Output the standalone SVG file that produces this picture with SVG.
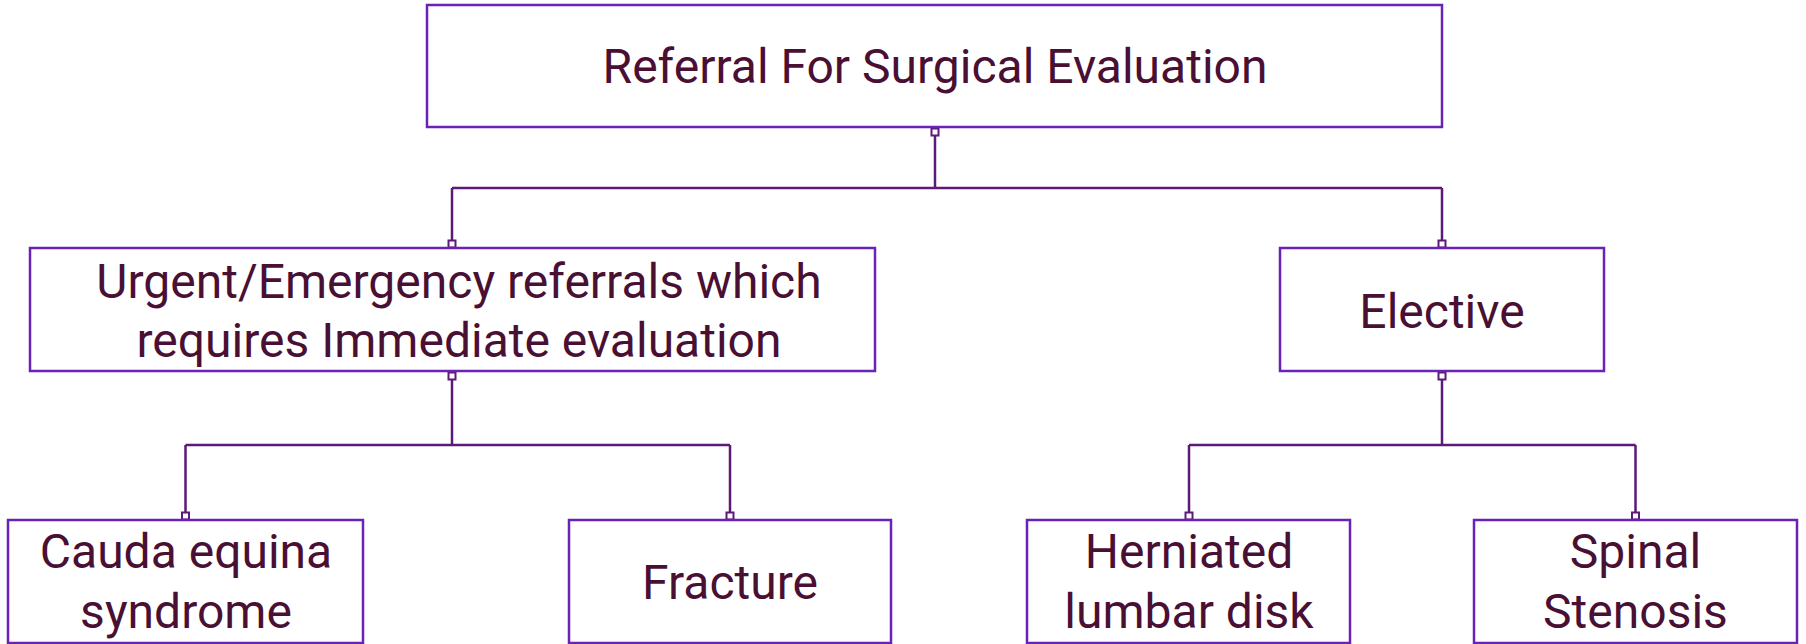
<svg xmlns="http://www.w3.org/2000/svg" width="1806" height="644" viewBox="0 0 1806 644">
<style>
.box{fill:#fff;stroke:#6a22b6;stroke-width:2.5}
.lbl{font-family:Roboto,"Liberation Sans",sans-serif;font-size:48px;fill:#4a1034;text-anchor:middle}
.ln{fill:none;stroke:#5c1a78;stroke-width:2.5}
.pt{fill:#fff;stroke:#5c1a78;stroke-width:2}
</style>
<rect width="1806" height="644" fill="#fff"/>
<g id="connectors">
<path class="ln" d="M935 136V188M452 188H1442M452 188V240M1442 188V240"/>
<path class="ln" d="M452 379V445M185.5 445H730M185.5 445V512M730 445V512"/>
<path class="ln" d="M1442 379V445M1189 445H1635.5M1189 445V512M1635.5 445V512"/>
<rect class="pt" x="931.5" y="128.5" width="7" height="7"/>
<rect class="pt" x="448.5" y="240.5" width="7" height="7"/>
<rect class="pt" x="1438.5" y="240.5" width="7" height="7"/>
<rect class="pt" x="448.5" y="372.5" width="7" height="7"/>
<rect class="pt" x="1438.5" y="372.5" width="7" height="7"/>
<rect class="pt" x="182" y="512.5" width="7" height="7"/>
<rect class="pt" x="726.5" y="512.5" width="7" height="7"/>
<rect class="pt" x="1185.5" y="512.5" width="7" height="7"/>
<rect class="pt" x="1632" y="512.5" width="7" height="7"/>
</g>
<g id="root">
<rect class="box" x="427" y="5" width="1015" height="122"/>
<text class="lbl" x="935" y="83">Referral For Surgical Evaluation</text>
</g>
<g id="urgent">
<rect class="box" x="30" y="248" width="845" height="123"/>
<text class="lbl" x="459" y="298">Urgent/Emergency referrals which</text>
<text class="lbl" x="459" y="357">requires Immediate evaluation</text>
</g>
<g id="elective">
<rect class="box" x="1280" y="248" width="324" height="123"/>
<text class="lbl" x="1442" y="328">Elective</text>
</g>
<g id="cauda">
<rect class="box" x="8" y="520" width="355" height="123"/>
<text class="lbl" x="186" y="568">Cauda equina</text>
<text class="lbl" x="186" y="628">syndrome</text>
</g>
<g id="fracture">
<rect class="box" x="569" y="520" width="322" height="123"/>
<text class="lbl" x="730" y="599">Fracture</text>
</g>
<g id="herniated">
<rect class="box" x="1027" y="520" width="323" height="123"/>
<text class="lbl" x="1189" y="568">Herniated</text>
<text class="lbl" x="1189" y="628">lumbar disk</text>
</g>
<g id="spinal">
<rect class="box" x="1474" y="520" width="323" height="123"/>
<text class="lbl" x="1635.5" y="568">Spinal</text>
<text class="lbl" x="1635.5" y="628">Stenosis</text>
</g>
</svg>
